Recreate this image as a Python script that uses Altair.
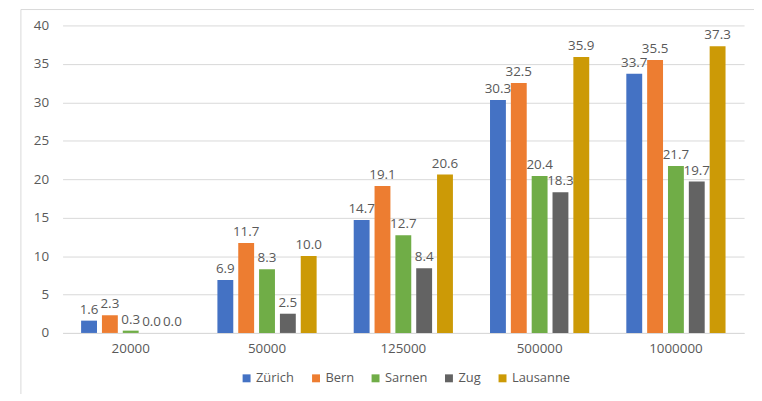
import altair as alt
import pandas as pd

categories = ["20000", "50000", "125000", "500000", "1000000"]
cities = ["Zürich", "Bern", "Sarnen", "Zug", "Lausanne"]
zurich = [1.6, 6.9, 14.7, 30.3, 33.7]
bern = [2.3, 11.7, 19.1, 32.5, 35.5]
sarnen = [0.3, 8.3, 12.7, 20.4, 21.7]
zug = [0.0, 2.5, 8.4, 18.3, 19.7]
lausanne = [0.0, 10.0, 20.6, 35.9, 37.3]
colors = ["#4472C4", "#ED7D31", "#70AD47", "#636363", "#CC9A06"]

series = [zurich, bern, sarnen, zug, lausanne]
rows = []
for city, vals in zip(cities, series):
    for cat, v in zip(categories, vals):
        rows.append({"cat": cat, "city": city, "value": v})
df = pd.DataFrame(rows)

FONT = "Open Sans"
GREY = "#595959"
W, H = 687, 310

x = alt.X("cat:N", sort=categories, title=None,
          scale=alt.Scale(paddingInner=0, paddingOuter=0),
          axis=alt.Axis(labelAngle=0, ticks=False, domainColor="#D9D9D9",
                        labelColor=GREY, labelFont=FONT, labelFontSize=13.5,
                        labelPadding=9, grid=False))
xoff = alt.XOffset("city:N", sort=cities,
                   scale=alt.Scale(paddingInner=0.238, paddingOuter=0.89))
y = alt.Y("value:Q", title=None,
          scale=alt.Scale(domain=[0, 40], nice=False),
          axis=alt.Axis(values=[0, 5, 10, 15, 20, 25, 30, 35, 40], ticks=False,
                        domain=False, gridColor="#D9D9D9", labelColor=GREY,
                        labelFont=FONT, labelFontSize=13.5, labelPadding=14))
color = alt.Color("city:N", sort=cities,
                  scale=alt.Scale(domain=cities, range=colors),
                  legend=alt.Legend(orient="none", direction="horizontal",
                                    legendX=179, legendY=349,
                                    title=None, symbolType="square",
                                    symbolSize=64, symbolStrokeWidth=0,
                                    labelFont=FONT, labelFontSize=13,
                                    labelColor=GREY, columnPadding=15,
                                    labelOffset=3))

base = alt.Chart(df)
bars = base.mark_bar().encode(x=x, xOffset=xoff, y=y, color=color)
labels = base.mark_text(baseline="bottom", dy=-4, font=FONT, fontSize=13.5,
                        color=GREY).encode(
    x=x,
    xOffset=xoff,
    y=y,
    text=alt.Text("value:Q", format=".1f"),
)
frame = alt.Chart(pd.DataFrame({"k": [0]})).mark_rect(
    fill=None, stroke="#D9D9D9", strokeWidth=1, clip=False
).encode(x=alt.value(-42), x2=alt.value(W + 40),
         y=alt.value(-16), y2=alt.value(H + 100))

chart = alt.layer(frame, bars, labels).properties(
    width=W, height=H,
    autosize=alt.AutoSizeParams(type="none"),
    padding={"left": 55, "top": 16, "right": 10, "bottom": 60},
    background="white",
).configure_view(stroke=None)

chart.save("out.html", embed_options={"renderer": "svg", "actions": False})
